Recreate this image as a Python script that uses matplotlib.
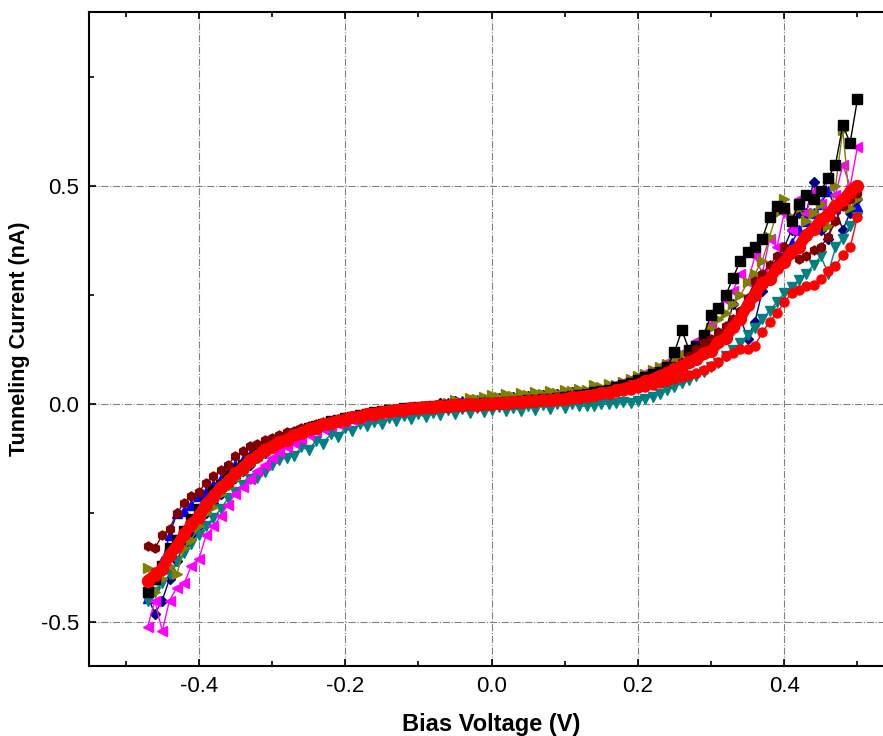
import matplotlib
matplotlib.use("Agg")
import matplotlib.pyplot as plt
from matplotlib.ticker import MultipleLocator

plt.rcParams['font.family'] = ['Liberation Sans', 'DejaVu Sans']

# bias voltage (V), shared by all sweeps
bias = [-0.47, -0.46, -0.45, -0.44, -0.43, -0.42, -0.41, -0.40, -0.39, -0.38,
        -0.37, -0.36, -0.35, -0.34, -0.33, -0.32, -0.31, -0.30, -0.29, -0.28,
        -0.27, -0.26, -0.25, -0.24, -0.23, -0.22, -0.21, -0.20, -0.19, -0.18,
        -0.17, -0.16, -0.15, -0.14, -0.13, -0.12, -0.11, -0.10, -0.09, -0.08,
        -0.07, -0.06, -0.05, -0.04, -0.03, -0.02, -0.01, 0.00, 0.01, 0.02,
        0.03, 0.04, 0.05, 0.06, 0.07, 0.08, 0.09, 0.10, 0.11, 0.12,
        0.13, 0.14, 0.15, 0.16, 0.17, 0.18, 0.19, 0.20, 0.21, 0.22,
        0.23, 0.24, 0.25, 0.26, 0.27, 0.28, 0.29, 0.30, 0.31, 0.32,
        0.33, 0.34, 0.35, 0.36, 0.37, 0.38, 0.39, 0.40, 0.41, 0.42,
        0.43, 0.44, 0.45, 0.46, 0.47, 0.48, 0.49, 0.50]

# tunneling current (nA) for each sweep
i_black = [-0.43, -0.40, -0.37, -0.33, -0.31, -0.29, -0.262, -0.24, -0.225, -0.198,
           -0.185, -0.165, -0.150, -0.140, -0.122, -0.110, -0.101, -0.090, -0.082, -0.077,
           -0.068, -0.061, -0.055, -0.049, -0.044, -0.039, -0.036, -0.031, -0.028, -0.025,
           -0.021, -0.018, -0.016, -0.013, -0.012, -0.009, -0.009, -0.006, -0.006, -0.004,
           -0.003, -0.001, -0.002, 0.001, 0.002, 0.001, 0.003, 0.004, 0.004, 0.006,
           0.006, 0.008, 0.009, 0.010, 0.012, 0.013, 0.014, 0.017, 0.019, 0.021,
           0.024, 0.028, 0.031, 0.034, 0.040, 0.045, 0.048, 0.055, 0.062, 0.070,
           0.075, 0.085, 0.12, 0.17, 0.125, 0.135, 0.16, 0.205, 0.22, 0.25,
           0.29, 0.33, 0.35, 0.36, 0.38, 0.43, 0.455, 0.45, 0.42, 0.46,
           0.48, 0.47, 0.49, 0.52, 0.55, 0.64, 0.60, 0.70]

i_red = [-0.40, -0.385, -0.37, -0.34, -0.33, -0.295, -0.28, -0.25, -0.235, -0.205,
         -0.195, -0.17, -0.162, -0.142, -0.132, -0.115, -0.108, -0.094, -0.089, -0.078,
         -0.073, -0.064, -0.059, -0.051, -0.048, -0.041, -0.039, -0.033, -0.031, -0.026,
         -0.024, -0.019, -0.019, -0.014, -0.014, -0.010, -0.011, -0.007, -0.008, -0.004,
         -0.005, -0.002, -0.003, 0.000, -0.001, 0.001, 0.000, 0.003, 0.002, 0.005,
         0.004, 0.007, 0.006, 0.009, 0.008, 0.011, 0.010, 0.013, 0.013, 0.016,
         0.018, 0.021, 0.023, 0.026, 0.028, 0.031, 0.034, 0.037, 0.041, 0.045,
         0.049, 0.053, 0.058, 0.062, 0.068, 0.073, 0.080, 0.087, 0.098, 0.110,
         0.118, 0.126, 0.128, 0.135, 0.165, 0.19, 0.21, 0.235, 0.255, 0.262,
         0.272, 0.275, 0.288, 0.305, 0.318, 0.342, 0.36, 0.43]

i_blue = [-0.445, -0.40, -0.36, -0.30, -0.25, -0.245, -0.23, -0.21, -0.20, -0.185,
          -0.170, -0.155, -0.140, -0.128, -0.117, -0.105, -0.096, -0.086, -0.079, -0.072,
          -0.065, -0.059, -0.053, -0.048, -0.043, -0.039, -0.035, -0.031, -0.028, -0.024,
          -0.021, -0.019, -0.016, -0.014, -0.012, -0.010, -0.008, -0.007, -0.005, -0.004,
          -0.006, 0.004, -0.003, 0.008, 0.000, 0.010, 0.002, 0.012, 0.004, 0.013,
          0.006, 0.016, 0.008, 0.019, 0.010, 0.022, 0.012, 0.025, 0.016, 0.028,
          0.026, 0.029, 0.032, 0.035, 0.038, 0.042, 0.046, 0.051, 0.056, 0.062,
          0.068, 0.075, 0.083, 0.091, 0.100, 0.110, 0.122, 0.135, 0.150, 0.168,
          0.188, 0.21, 0.235, 0.26, 0.28, 0.30, 0.33, 0.35, 0.37, 0.40,
          0.42, 0.44, 0.46, 0.49, 0.45, 0.47, 0.48, 0.455]

i_teal = [-0.45, -0.43, -0.41, -0.39, -0.36, -0.34, -0.32, -0.30, -0.28, -0.26,
          -0.240, -0.215, -0.200, -0.185, -0.172, -0.168, -0.155, -0.140, -0.128, -0.122,
          -0.118, -0.098, -0.104, -0.084, -0.090, -0.068, -0.075, -0.055, -0.062, -0.046,
          -0.050, -0.040, -0.046, -0.032, -0.038, -0.026, -0.033, -0.022, -0.030, -0.020,
          -0.024, -0.012, -0.022, -0.010, -0.020, -0.008, -0.018, -0.012, -0.006, -0.016,
          -0.008, -0.015, -0.004, -0.012, -0.002, -0.010, 0.000, -0.008, 0.002, -0.004,
          -0.004, -0.003, 0.000, 0.001, 0.003, 0.005, 0.004, 0.008, 0.012, 0.018,
          0.025, 0.032, 0.040, 0.048, 0.055, 0.064, 0.075, 0.085, 0.096, 0.110,
          0.125, 0.140, 0.160, 0.175, 0.195, 0.215, 0.235, 0.255, 0.270, 0.285,
          0.30, 0.32, 0.34, 0.30, 0.36, 0.38, 0.41, 0.43]

i_navy = [-0.44, -0.48, -0.45, -0.40, -0.36, -0.32, -0.30, -0.28, -0.25, -0.225,
          -0.205, -0.185, -0.168, -0.152, -0.138, -0.124, -0.112, -0.101, -0.092, -0.084,
          -0.076, -0.068, -0.061, -0.055, -0.049, -0.044, -0.040, -0.035, -0.031, -0.028,
          -0.024, -0.021, -0.018, -0.016, -0.013, -0.011, -0.009, -0.008, -0.006, -0.004,
          0.004, -0.004, 0.008, 0.000, 0.010, 0.003, 0.012, 0.005, 0.014, 0.008,
          0.016, 0.009, 0.020, 0.012, 0.022, 0.014, 0.024, 0.017, 0.028, 0.020,
          0.027, 0.030, 0.033, 0.035, 0.039, 0.043, 0.048, 0.053, 0.058, 0.064,
          0.070, 0.078, 0.086, 0.094, 0.104, 0.113, 0.124, 0.135, 0.150, 0.170,
          0.23, 0.20, 0.15, 0.19, 0.26, 0.29, 0.32, 0.36, 0.40, 0.44,
          0.44, 0.51, 0.40, 0.38, 0.45, 0.40, 0.44, 0.47]

i_magenta = [-0.51, -0.45, -0.52, -0.45, -0.42, -0.41, -0.37, -0.355, -0.30, -0.28,
             -0.255, -0.23, -0.205, -0.19, -0.17, -0.152, -0.14, -0.122, -0.110, -0.098,
             -0.088, -0.079, -0.070, -0.062, -0.056, -0.050, -0.045, -0.040, -0.035, -0.031,
             -0.027, -0.023, -0.020, -0.018, -0.015, -0.013, -0.011, -0.009, -0.007, -0.006,
             -0.004, -0.002, -0.001, 0.001, 0.002, 0.003, 0.004, 0.005, 0.006, 0.008,
             0.009, 0.010, 0.012, 0.013, 0.014, 0.016, 0.018, 0.020, 0.022, 0.025,
             0.028, 0.032, 0.036, 0.040, 0.046, 0.052, 0.058, 0.065, 0.072, 0.080,
             0.088, 0.097, 0.106, 0.118, 0.130, 0.145, 0.160, 0.185, 0.22, 0.24,
             0.26, 0.30, 0.28, 0.34, 0.30, 0.38, 0.36, 0.44, 0.40, 0.47,
             0.44, 0.49, 0.46, 0.52, 0.48, 0.55, 0.50, 0.59]

i_olive = [-0.375, -0.43, -0.40, -0.37, -0.39, -0.33, -0.31, -0.28, -0.25, -0.235,
           -0.205, -0.19, -0.172, -0.155, -0.14, -0.128, -0.113, -0.104, -0.093, -0.086,
           -0.077, -0.070, -0.062, -0.056, -0.050, -0.044, -0.041, -0.036, -0.032, -0.028,
           -0.024, -0.021, -0.018, -0.016, -0.012, -0.011, -0.008, -0.007, -0.004, -0.003,
           -0.002, 0.004, 0.010, 0.006, 0.015, 0.012, 0.018, 0.022, 0.016, 0.024,
           0.020, 0.027, 0.022, 0.028, 0.025, 0.030, 0.027, 0.033, 0.030, 0.036,
           0.033, 0.045, 0.040, 0.047, 0.044, 0.052, 0.058, 0.065, 0.070, 0.078,
           0.085, 0.092, 0.10, 0.115, 0.122, 0.135, 0.158, 0.175, 0.195, 0.21,
           0.23, 0.25, 0.28, 0.30, 0.33, 0.385, 0.44, 0.47, 0.43, 0.45,
           0.42, 0.44, 0.46, 0.41, 0.50, 0.63, 0.45, 0.47]

i_maroon = [-0.325, -0.33, -0.30, -0.285, -0.25, -0.225, -0.21, -0.20, -0.18, -0.165,
            -0.150, -0.138, -0.118, -0.108, -0.096, -0.090, -0.082, -0.078, -0.070, -0.064,
            -0.060, -0.055, -0.050, -0.046, -0.041, -0.037, -0.034, -0.030, -0.028, -0.025,
            -0.022, -0.020, -0.017, -0.016, -0.014, -0.012, -0.011, -0.009, -0.008, -0.006,
            -0.002, -0.008, 0.001, -0.006, 0.003, -0.003, 0.005, -0.001, 0.006, 0.001,
            0.008, 0.003, 0.010, 0.005, 0.012, 0.008, 0.016, 0.011, 0.019, 0.015,
            0.020, 0.023, 0.026, 0.030, 0.034, 0.038, 0.043, 0.049, 0.055, 0.062,
            0.070, 0.078, 0.088, 0.098, 0.110, 0.128, 0.140, 0.150, 0.165, 0.180,
            0.195, 0.215, 0.245, 0.282, 0.30, 0.32, 0.34, 0.36, 0.345, 0.333,
            0.34, 0.355, 0.362, 0.385, 0.42, 0.454, 0.47, 0.486]

# averaged curve (thick red)
i_avg = [-0.405, -0.392, -0.378, -0.345, -0.325, -0.298, -0.275, -0.258, -0.228, -0.212,
         -0.190, -0.178, -0.158, -0.146, -0.128, -0.118, -0.104, -0.097, -0.086, -0.081,
         -0.071, -0.066, -0.057, -0.053, -0.046, -0.043, -0.037, -0.035, -0.029, -0.028,
         -0.022, -0.021, -0.017, -0.016, -0.012, -0.012, -0.009, -0.009, -0.006, -0.006,
         -0.003, -0.004, -0.001, -0.002, 0.001, -0.001, 0.002, 0.001, 0.004, 0.003,
         0.006, 0.005, 0.008, 0.007, 0.010, 0.009, 0.012, 0.012, 0.016, 0.016,
         0.020, 0.021, 0.026, 0.027, 0.033, 0.035, 0.042, 0.045, 0.053, 0.057,
         0.066, 0.071, 0.081, 0.087, 0.098, 0.103, 0.117, 0.123, 0.142, 0.153,
         0.178, 0.197, 0.228, 0.252, 0.278, 0.287, 0.313, 0.327, 0.351, 0.362,
         0.388, 0.402, 0.423, 0.435, 0.455, 0.468, 0.488, 0.502]

sweeps = [
    (i_blue, '#0000FF', '^'),
    (i_navy, '#000080', 'D'),
    (i_teal, '#008080', 'v'),
    (i_magenta, '#FF00FF', '<'),
    (i_olive, '#808000', '>'),
    (i_black, '#000000', 's'),
    (i_maroon, '#800000', 'h'),
    (i_red, '#FF0000', 'o'),
]

fig = plt.figure(figsize=(8.83, 7.36), dpi=100)
ax = fig.add_axes([0.1008, 0.0951, 0.9117, 0.8886])

for cur, col, mk in sweeps:
    ms = 5.5 if mk == 'D' else 6.5
    ax.plot(bias, cur, color=col, marker=mk, ms=ms, lw=1.0, mec=col, mfc=col)

ax.plot(bias, i_avg, color='#FF0000', lw=8, marker='o', ms=8.5, solid_capstyle='round')

ax.set_xlim(-0.55, 0.55)
ax.set_ylim(-0.6, 0.9)
ax.xaxis.set_minor_locator(MultipleLocator(0.1))
ax.yaxis.set_minor_locator(MultipleLocator(0.25))
ax.set_xticks([-0.4, -0.2, 0.0, 0.2, 0.4])
ax.set_xticklabels(['-0.4', '-0.2', '0.0', '0.2', '0.4'])
ax.set_yticks([-0.5, 0.0, 0.5])
ax.set_yticklabels(['-0.5', '0.0', '0.5'])

ax.grid(True, which='major', color='#808080', ls='-.', lw=0.8)
ax.set_axisbelow(True)
ax.tick_params(which='both', direction='in', top=True, right=True, labelsize=16, pad=7, width=1.2)
ax.tick_params(which='major', length=5)
ax.tick_params(which='minor', length=3.5)
for sp in ax.spines.values():
    sp.set_linewidth(1.5)

ax.set_xlabel('Bias Voltage (V)', fontsize=17, fontweight='bold', labelpad=12)
ax.set_ylabel('Tunneling Current (nA)', fontsize=15.5, fontweight='bold', labelpad=8)

fig.savefig('out.png', dpi=100)
